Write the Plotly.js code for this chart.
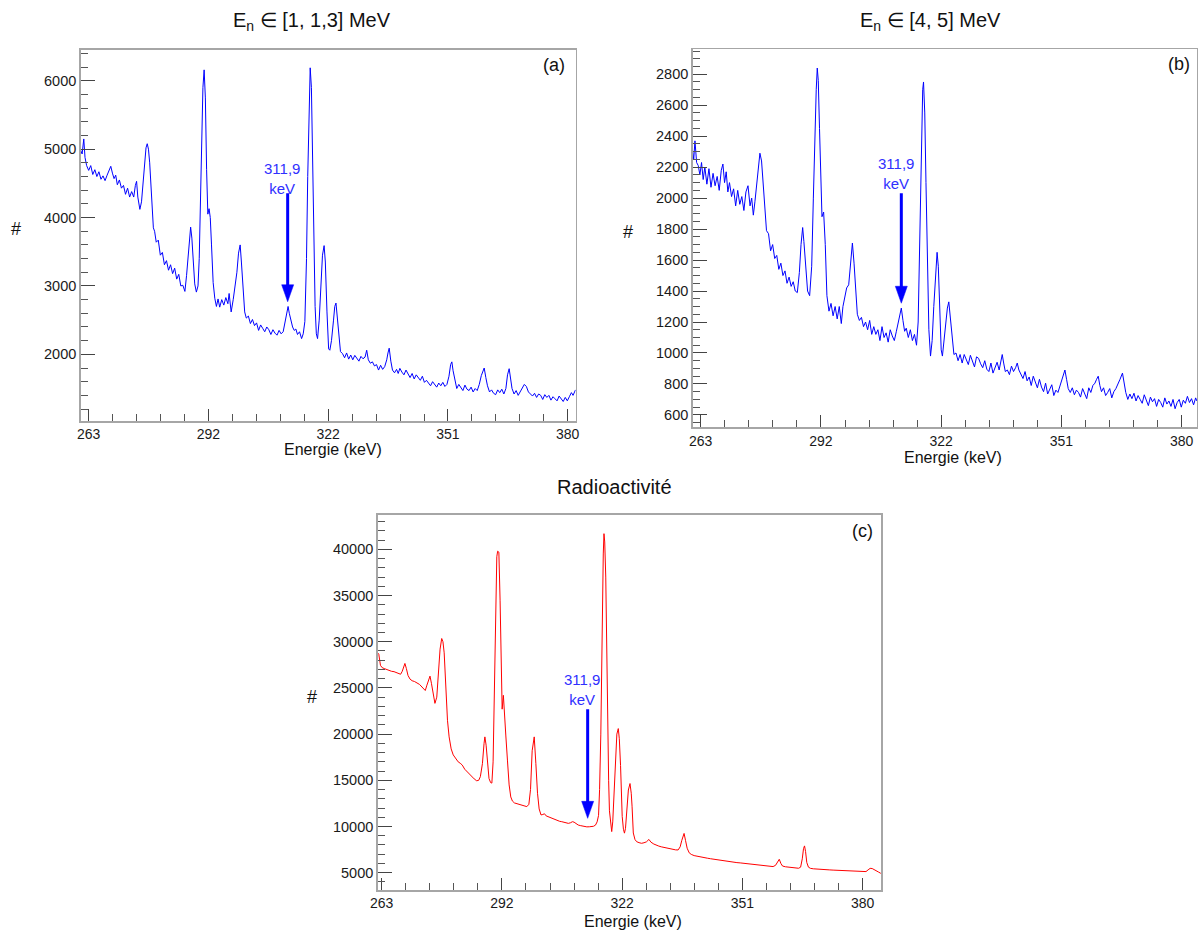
<!DOCTYPE html>
<html>
<head>
<meta charset="utf-8">
<script src="https://cdn.plot.ly/plotly-3.0.1.min.js"></script>
<style>
html,body{margin:0;padding:0;background:#fff;}
#chart{width:1198px;height:931px;}
</style>
</head>
<body>
<div id="chart"></div>
<script>
// ---------------- DATA ----------------
const panelTitles = ['E<sub>n</sub> ∈ [1, 1,3] MeV', 'E<sub>n</sub> ∈ [4, 5] MeV', 'Radioactivité'];
const panelTags = ['(a)', '(b)', '(c)'];
const xTickVals = [263, 292.25, 321.5, 350.75, 380];
const xTickText = ['263', '292', '322', '351', '380'];
const xAxisTitle = 'Energie (keV)';
const yAxisTitle = '#';
const peakLabel = '311,9<br>keV';

// Panel (a): En in [1, 1.3] MeV
const energyA = [
 261.0,261.4,261.8,262.1,262.5,263.0,263.5,264.0,264.5,265.0,
 265.5,266.0,266.5,267.0,267.5,268.0,268.4,268.8,269.2,269.6,
 270.0,270.5,271.0,271.5,272.0,272.5,273.0,273.5,274.0,274.4,
 274.7,275.0,275.5,275.9,276.3,276.7,277.0,277.3,277.6,277.9,
 278.2,278.5,278.8,279.1,279.5,280.0,280.5,281.0,281.5,282.0,
 282.5,283.0,283.5,284.0,284.5,285.0,285.5,286.0,286.5,286.9,
 287.3,287.6,287.9,288.2,288.5,288.9,289.3,289.7,290.0,290.3,
 290.6,290.9,291.2,291.5,291.8,292.1,292.4,292.7,293.0,293.4,
 293.8,294.2,294.6,295.0,295.5,296.0,296.5,297.0,297.3,297.8,
 298.3,298.7,299.2,299.6,300.0,300.3,300.7,301.1,301.5,302.0,
 302.5,303.0,303.5,304.0,304.5,305.0,305.5,306.0,306.5,307.0,
 307.5,308.0,308.5,309.0,309.5,310.0,310.5,311.0,311.4,311.7,
 312.0,312.4,312.8,313.2,313.6,314.0,314.5,315.0,315.4,315.8,
 316.2,316.5,316.8,317.1,317.4,317.7,318.0,318.3,318.6,318.9,
 319.3,319.7,320.1,320.5,320.8,321.2,321.6,321.9,322.3,322.8,
 323.1,323.4,323.7,324.1,324.5,325.0,325.5,326.0,326.5,327.0,
 327.5,328.0,328.5,329.0,329.5,330.0,330.5,330.9,331.3,331.8,
 332.3,332.8,333.3,333.8,334.3,334.8,335.3,335.8,336.1,336.4,
 336.8,337.2,337.7,338.2,338.6,339.0,339.5,340.0,340.5,341.0,
 341.5,342.0,342.5,343.0,343.5,344.0,344.5,345.0,345.5,346.0,
 346.5,347.0,347.5,348.0,348.5,349.0,349.5,350.0,350.5,351.0,
 351.4,351.7,352.0,352.4,352.9,353.4,353.9,354.4,354.9,355.4,
 355.9,356.4,356.9,357.4,357.9,358.4,358.9,359.3,359.6,360.0,
 360.4,360.9,361.4,361.9,362.4,362.9,363.4,363.9,364.4,364.9,
 365.3,365.7,366.0,366.4,366.9,367.4,367.9,368.4,368.9,369.4,
 369.9,370.4,370.9,371.4,371.9,372.4,372.9,373.4,373.9,374.4,
 374.9,375.4,375.9,376.4,376.9,377.4,377.9,378.4,378.9,379.4,
 379.9,380.4,380.9,381.3,381.9
];
const countsA = [
 4990,4930,5150,4880,4760,4690,4760,4630,4700,4600,
 4670,4560,4610,4540,4620,4680,4750,4650,4570,4620,
 4480,4550,4430,4470,4340,4430,4300,4380,4300,4470,
 4530,4300,4120,4230,4500,4860,5020,5080,5000,4800,
 4450,4100,3850,3800,3640,3670,3450,3490,3310,3370,
 3230,3310,3180,3260,3100,3170,3000,3010,2920,3150,
 3480,3760,3860,3700,3350,3030,2910,3000,3400,4200,
 5150,5900,6160,5750,4700,4050,4130,4000,3600,3050,
 2820,2700,2810,2690,2800,2720,2830,2740,2890,2620,
 2800,2950,3200,3480,3600,3350,2900,2620,2530,2560,
 2450,2510,2420,2460,2350,2430,2380,2330,2400,2360,
 2290,2360,2310,2280,2350,2300,2330,2480,2640,2700,
 2600,2470,2400,2350,2370,2290,2330,2230,2300,2480,
 3400,4600,5700,6190,5900,4800,3700,2700,2300,2230,
 2500,3000,3450,3590,3350,2620,2080,2060,2200,2500,
 2700,2750,2560,2230,2040,2010,1950,2020,1930,1990,
 1920,1985,1950,1900,1970,1935,1960,2060,1920,1870,
 1890,1830,1850,1770,1840,1780,1820,1920,2020,2090,
 1900,1770,1730,1780,1720,1795,1740,1700,1770,1710,
 1660,1720,1640,1700,1660,1620,1680,1590,1620,1580,
 1540,1600,1560,1520,1580,1540,1590,1530,1560,1680,
 1850,1890,1760,1620,1500,1560,1520,1470,1550,1490,
 1470,1520,1450,1500,1470,1560,1690,1770,1800,1660,
 1540,1450,1480,1430,1410,1480,1440,1490,1420,1500,
 1700,1790,1650,1500,1420,1470,1400,1450,1500,1560,
 1530,1450,1420,1390,1430,1370,1420,1400,1340,1410,
 1370,1400,1330,1380,1350,1320,1390,1340,1310,1370,
 1320,1380,1440,1400,1480
];

// Panel (b): En in [4, 5] MeV
const energyB = [
 261.0,261.3,261.6,262.0,262.4,262.8,263.2,263.6,264.0,264.5,
 265.0,265.5,266.0,266.5,267.0,267.5,268.0,268.4,268.8,269.2,
 269.6,270.0,270.5,271.0,271.5,272.0,272.5,273.0,273.5,274.0,
 274.5,275.0,275.4,275.8,276.2,276.6,277.0,277.4,277.8,278.2,
 278.6,279.0,279.5,280.0,280.5,281.0,281.5,282.0,282.5,283.0,
 283.5,284.0,284.5,285.0,285.5,286.0,286.5,287.0,287.4,287.8,
 288.1,288.5,289.0,289.5,290.0,290.4,290.8,291.1,291.35,291.6,
 291.9,292.2,292.5,292.9,293.3,293.7,294.2,294.7,295.2,295.7,
 296.2,296.7,297.2,297.6,298.0,298.5,299.0,299.4,299.9,300.3,
 300.7,301.1,301.6,302.1,302.6,303.1,303.6,304.1,304.6,305.1,
 305.6,306.1,306.6,307.1,307.6,308.1,308.6,309.1,309.6,310.1,
 310.6,311.1,311.5,311.8,312.2,312.6,313.0,313.5,314.0,314.5,
 315.0,315.5,315.9,316.3,316.7,317.0,317.2,317.5,317.8,318.1,
 318.5,318.9,319.3,319.7,320.1,320.5,320.8,321.1,321.5,321.8,
 322.2,322.6,323.0,323.35,323.7,324.1,324.6,325.1,325.6,326.1,
 326.6,327.1,327.6,328.1,328.6,329.1,329.6,330.1,330.6,331.1,
 331.6,332.1,332.6,333.1,333.6,334.1,334.6,335.1,335.6,336.0,
 336.35,336.7,337.1,337.6,338.1,338.6,339.1,339.6,340.0,340.4,
 340.9,341.4,341.9,342.4,342.9,343.4,343.9,344.4,344.9,345.4,
 345.9,346.4,346.9,347.4,347.9,348.4,348.9,349.4,349.9,350.4,
 350.9,351.3,351.6,352.0,352.4,352.9,353.4,353.9,354.4,354.9,
 355.4,355.9,356.4,356.9,357.4,357.9,358.4,358.9,359.3,359.7,
 360.1,360.5,361.0,361.5,362.0,362.5,363.0,363.5,364.0,364.5,
 365.0,365.6,366.0,366.4,366.9,367.4,367.9,368.4,368.9,369.4,
 369.9,370.4,370.9,371.4,371.9,372.4,372.9,373.4,373.9,374.4,
 374.9,375.4,375.9,376.4,376.9,377.4,377.9,378.4,378.9,379.4,
 379.9,380.4,380.9,381.4,381.9,382.4,382.9,383.4,383.7
];
const countsB = [
 2310,2250,2370,2230,2210,2150,2230,2120,2200,2090,
 2190,2070,2160,2080,2140,2050,2180,2220,2100,2170,
 2040,2100,2010,2060,1950,2050,1960,2010,1920,2040,
 2080,1950,2000,1890,1980,2080,2220,2290,2240,2100,
 1900,1790,1770,1660,1700,1610,1630,1540,1580,1500,
 1530,1450,1490,1430,1460,1400,1390,1520,1700,1810,
 1720,1560,1400,1370,1560,2000,2500,2700,2840,2760,
 2450,2050,1880,1910,1700,1370,1270,1320,1240,1300,
 1220,1300,1190,1300,1360,1420,1440,1560,1710,1580,
 1380,1250,1210,1230,1170,1200,1150,1210,1120,1170,
 1120,1150,1080,1170,1100,1130,1070,1150,1110,1080,
 1140,1200,1260,1290,1210,1140,1160,1100,1150,1080,
 1120,1050,1200,1750,2400,2700,2750,2550,2100,1650,
 1150,980,1080,1300,1500,1650,1560,1260,1020,980,
 1080,1200,1290,1330,1220,1100,990,1000,950,990,
 935,990,960,925,985,950,910,975,965,930,
 905,950,895,880,935,870,905,940,890,960,
 990,935,880,890,860,915,880,905,935,890,
 860,835,880,820,845,790,850,815,775,830,
 780,750,805,735,770,795,725,760,745,790,
 820,870,890,830,770,745,775,730,760,745,
 715,770,740,705,775,745,790,805,830,850,
 790,750,775,725,745,770,710,750,770,795,
 830,870,800,745,700,735,705,740,690,725,
 700,675,730,690,660,715,685,705,655,700,
 680,650,710,670,690,655,700,640,680,700,
 650,695,675,720,680,705,665,710,690
];

// Panel (c): Radioactivité
const energyC = [
 262.0,262.3,262.7,263.1,263.6,264.2,264.8,265.4,266.0,266.6,
 267.1,267.6,268.0,268.3,268.65,269.0,269.4,269.9,270.4,271.0,
 271.6,272.2,272.8,273.3,273.6,274.0,274.4,274.75,275.1,275.5,
 275.95,276.4,276.8,277.2,277.6,277.9,278.2,278.6,279.0,279.4,
 279.9,280.4,281.0,281.6,282.1,282.6,283.2,283.7,284.3,284.9,
 285.5,286.1,286.6,287.0,287.5,287.9,288.1,288.4,288.7,289.1,
 289.5,289.8,290.1,290.4,290.7,291.0,291.2,291.5,291.8,292.1,
 292.3,292.6,292.9,293.2,293.6,294.0,294.4,294.8,295.3,295.8,
 296.3,296.8,297.3,297.8,298.3,298.8,299.2,299.6,300.1,300.5,
 300.9,301.3,301.75,302.2,302.6,303.0,303.5,304.0,304.5,305.1,
 305.7,306.3,306.8,307.4,307.9,308.4,308.9,309.4,309.8,310.3,
 310.8,311.3,311.8,312.4,312.9,313.5,314.0,314.5,315.0,315.4,
 315.75,316.0,316.3,316.65,316.9,317.07,317.25,317.5,317.9,318.2,
 318.4,318.7,318.95,319.2,319.5,319.9,320.2,320.55,320.8,321.1,
 321.5,321.8,322.05,322.3,322.6,323.0,323.4,323.7,323.9,324.2,
 324.6,325.0,325.6,326.2,326.8,327.4,328.0,328.5,329.2,329.8,
 330.4,331.0,331.7,332.4,333.1,333.8,334.5,335.1,335.6,336.0,
 336.3,336.55,336.9,337.3,337.8,338.3,339.0,339.8,340.6,341.4,
 342.2,343.0,343.8,344.6,345.4,346.2,347.0,347.8,348.6,349.4,
 350.2,351.0,351.8,352.6,353.4,354.2,355.0,355.8,356.6,357.4,
 358.2,358.8,359.3,359.7,360.1,360.5,361.2,362.0,362.8,363.6,
 364.4,364.9,365.3,365.6,365.85,366.1,366.4,366.8,367.3,368.0,
 368.8,369.6,370.4,371.2,372.0,372.8,373.6,374.4,375.2,376.0,
 376.8,377.6,378.4,379.2,380.0,380.8,381.3,381.8,382.3,382.8,
 383.3,383.8,384.4
];
const countsC = [
 28800,28650,27450,27200,27100,26980,26920,26800,26760,26650,
 26580,26480,26800,27300,27650,27100,26350,25950,25780,25690,
 25560,25380,25100,24800,24720,25300,25950,26280,25500,24200,
 23330,24000,26300,29200,30350,30000,28800,25400,21500,19700,
 18400,17750,17350,17000,16850,16650,16200,15950,15650,15400,
 15150,14950,15000,15400,16800,19000,19700,18800,16800,15200,
 14750,14700,17000,24500,33400,39200,39800,39700,34500,26000,
 22700,24200,22500,19800,17100,14500,13200,12750,12550,12480,
 12430,12380,12300,12220,12150,12400,14000,18200,19700,16800,
 13600,11900,11250,11300,11380,11150,11060,10950,10850,10700,
 10620,10560,10520,10430,10380,10340,10400,10520,10470,10280,
 10160,10100,10040,9980,9960,9970,9980,10020,10150,10500,
 11200,14000,20000,33400,39500,41700,40800,37000,22600,15000,
 11700,9900,9450,10500,13600,17800,20000,20600,19500,16600,
 11100,9700,9280,9800,11800,13950,14650,13600,12200,9300,
 8600,8360,8250,8180,8240,8340,8600,8300,8100,7960,
 7880,7800,7720,7650,7580,7520,7470,7460,7800,8500,
 9100,9250,8500,7650,7150,6980,6850,6760,6680,6620,
 6570,6510,6450,6390,6330,6270,6210,6160,6120,6090,
 6060,6020,5970,5920,5880,5850,5800,5740,5680,5650,
 5660,5800,6200,6450,6000,5720,5640,5580,5540,5510,
 5480,5600,6500,7600,7900,7300,6100,5600,5470,5420,
 5380,5350,5330,5310,5300,5280,5260,5250,5230,5210,
 5180,5150,5130,5110,5100,5120,5300,5470,5450,5350,
 5220,5080,4930
];

// Arrow marking the 311.9 keV line (energy, arrow tip, arrow tail, label centre)
const arrowEnergy = [311.6, 311.8, 313.1];
const arrowTipCounts = [2769, 1321, 10883];
const arrowTailCounts = [4354, 2032, 22681];
const labelEnergy = [310.2, 310.4, 311.65];
const labelCounts = [4578, 2161, 24828];

// ---------------- LAYOUT ----------------
const W = 1198, H = 931;
const FONT = 'Liberation Sans, Arial, Helvetica, sans-serif';
// plot frames in pixels: [left, top, right, bottom]
const frames = [[80.7, 49.7, 575.7, 421], [692.7, 49, 1197, 427.3], [377.7, 514.7, 881, 890]];
const xRanges = [[261.05, 381.95], [261.05, 383.73], [262.03, 384.45]];
const yRanges = [[1025, 6455], [520, 2963], [3126, 43752]];
const yDticks = [1000, 200, 5000];
const yMinorDticks = [200, 50, 1000];
const lineColors = ['#0000ff', '#0000ff', '#ff0000'];
const ARROW_COLOR = '#0000ff';
const HEAD_LEN = 17, HEAD_HALF = 6;

const px = (x) => x / W;
const py = (y) => 1 - y / H;

const layout = {
  width: W, height: H,
  margin: {l: 0, r: 0, t: 0, b: 0},
  paper_bgcolor: '#ffffff', plot_bgcolor: '#ffffff',
  showlegend: false,
  font: {family: FONT, color: '#1a1a1a'},
  annotations: [],
  shapes: []
};

const data = [];
const energies = [energyA, energyB, energyC];
const counts = [countsA, countsB, countsC];
const titleCenters = [[312, 21.7], [930.7, 21.7], [615, 486.7]];
const tagCenters = [[553.5, 65], [1179, 64], [862.5, 531]];
const hashCenters = [[16, 228.7], [627.5, 232], [311.5, 696.7]];
const xTitleCenters = [[333, 449.5], [953, 457.5], [633, 921]];

for (let i = 0; i < 3; i++) {
  const sfx = i === 0 ? '' : String(i + 1);
  const xa = 'xaxis' + sfx, ya = 'yaxis' + sfx;
  const xr = 'x' + sfx, yr = 'y' + sfx;
  const f = frames[i];
  layout[xa] = {
    domain: [px(f[0]), px(f[2])], range: xRanges[i], anchor: yr,
    tickmode: 'array', tickvals: xTickVals, ticktext: xTickText,
    ticks: 'inside', ticklen: 12, tickwidth: 1, tickcolor: '#444',
    showline: true, mirror: true, linecolor: '#a6a6a6', linewidth: 1.5,
    showgrid: false, zeroline: false, fixedrange: true,
    tickfont: {family: FONT, size: 14, color: '#1a1a1a'},
    minor: {tick0: 263, dtick: 5.85, ticks: 'inside', ticklen: 7, tickwidth: 1, tickcolor: '#555', showgrid: false}
  };
  layout[ya] = {
    domain: [py(f[3]), py(f[1])], range: yRanges[i], anchor: xr,
    tick0: 0, dtick: yDticks[i], tickformat: 'd',
    ticks: 'inside', ticklen: 14, tickwidth: 1, tickcolor: '#444',
    showline: true, mirror: true, linecolor: '#a6a6a6', linewidth: 1.5,
    showgrid: false, zeroline: false, fixedrange: true,
    tickfont: {family: FONT, size: 14.5, color: '#1a1a1a'},
    minor: {tick0: 0, dtick: yMinorDticks[i], ticks: 'inside', ticklen: 7, tickwidth: 1, tickcolor: '#555', showgrid: false}
  };
  data.push({
    type: 'scatter', mode: 'lines', x: energies[i], y: counts[i],
    xaxis: xr, yaxis: yr,
    line: {color: lineColors[i], width: 1}, hoverinfo: 'x+y'
  });
  // panel title
  layout.annotations.push({
    xref: 'paper', yref: 'paper', x: px(titleCenters[i][0]), y: py(titleCenters[i][1]),
    xanchor: 'center', yanchor: 'middle', showarrow: false,
    text: panelTitles[i], font: {family: FONT, size: 20, color: '#111'}
  });
  // panel tag
  layout.annotations.push({
    xref: 'paper', yref: 'paper', x: px(tagCenters[i][0]), y: py(tagCenters[i][1]),
    xanchor: 'center', yanchor: 'middle', showarrow: false,
    text: panelTags[i], font: {family: FONT, size: 18, color: '#111'}
  });
  // y axis title
  layout.annotations.push({
    xref: 'paper', yref: 'paper', x: px(hashCenters[i][0]), y: py(hashCenters[i][1]),
    xanchor: 'center', yanchor: 'middle', showarrow: false,
    text: yAxisTitle, font: {family: FONT, size: 18, color: '#111'}
  });
  // x axis title
  layout.annotations.push({
    xref: 'paper', yref: 'paper', x: px(xTitleCenters[i][0]), y: py(xTitleCenters[i][1]),
    xanchor: 'center', yanchor: 'middle', showarrow: false,
    text: xAxisTitle, font: {family: FONT, size: 16, color: '#111'}
  });
  // arrow shaft (stops inside the head) and head
  const countsPerPx = (yRanges[i][1] - yRanges[i][0]) / (f[3] - f[1]);
  layout.shapes.push({
    type: 'line', xref: xr, yref: yr,
    x0: arrowEnergy[i], x1: arrowEnergy[i],
    y0: arrowTailCounts[i], y1: arrowTipCounts[i] + 8 * countsPerPx,
    line: {color: ARROW_COLOR, width: 3}
  });
  layout.shapes.push({
    type: 'path', xref: xr, yref: yr,
    xsizemode: 'pixel', ysizemode: 'pixel',
    xanchor: arrowEnergy[i], yanchor: arrowTipCounts[i],
    path: 'M0,0 L' + (-HEAD_HALF) + ',' + HEAD_LEN + ' L' + HEAD_HALF + ',' + HEAD_LEN + ' Z',
    fillcolor: ARROW_COLOR, line: {color: ARROW_COLOR, width: 0.5}
  });
  // arrow label
  layout.annotations.push({
    xref: xr, yref: yr, x: labelEnergy[i], y: labelCounts[i],
    xanchor: 'center', yanchor: 'middle', showarrow: false,
    text: peakLabel, font: {family: FONT, size: 15, color: '#3030ff'}
  });
}

Plotly.newPlot('chart', data, layout, {displayModeBar: false, staticPlot: true});
</script>
</body>
</html>
